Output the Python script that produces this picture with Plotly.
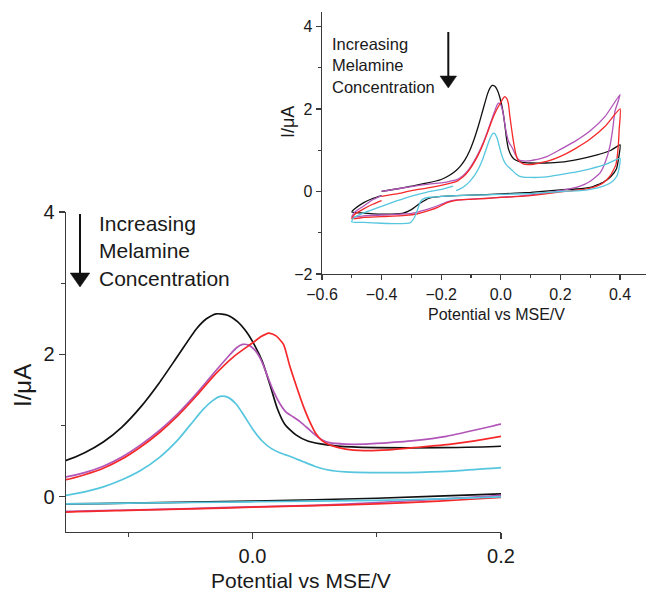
import plotly.graph_objects as go

W, H = 646, 591

# ---------------- data (potential in V vs MSE, current in uA) ----------------
black_x = [-0.40, -0.35, -0.30, -0.25, -0.20, -0.175, -0.15, -0.135, -0.12, -0.105, -0.09, -0.075,
           -0.06, -0.045, -0.037, -0.029, -0.020, -0.012, -0.005, 0.002, 0.008, 0.014, 0.020,
           0.026, 0.035, 0.045, 0.060, 0.080,
           0.100, 0.150, 0.200, 0.260, 0.320, 0.370, 0.400,
           0.396, 0.388, 0.370, 0.345, 0.300, 0.250, 0.200, 0.100, 0.000, -0.100, -0.150, -0.200,
           -0.240, -0.270, -0.300, -0.330, -0.400, -0.470, -0.500,
           -0.490, -0.460, -0.430, -0.400]
black_y = [0.00, 0.06, 0.13, 0.20, 0.29, 0.38, 0.51, 0.62, 0.77, 0.98, 1.26, 1.60,
           1.98, 2.36, 2.50, 2.57, 2.55, 2.46, 2.32, 2.12, 1.90, 1.58, 1.24,
           1.02, 0.87, 0.78, 0.73, 0.70,
           0.69, 0.69, 0.71, 0.78, 0.88, 1.00, 1.13,
           0.85, 0.55, 0.37, 0.23, 0.10, 0.06, 0.04, -0.02, -0.06, -0.09, -0.10, -0.12,
           -0.16, -0.28, -0.44, -0.53, -0.55, -0.52, -0.50,
           -0.42, -0.27, -0.17, -0.10]

red_x = [-0.40, -0.35, -0.30, -0.25, -0.20, -0.175, -0.15, -0.135, -0.12, -0.105, -0.09, -0.075,
         -0.06, -0.045, -0.03, -0.015, 0.000, 0.007, 0.013, 0.019, 0.025, 0.030, 0.036, 0.041,
         0.046, 0.051, 0.056, 0.062, 0.075, 0.090, 0.110, 0.130, 0.160, 0.200, 0.250, 0.300,
         0.350, 0.400,
         0.397, 0.394, 0.386, 0.366, 0.345, 0.322, 0.280, 0.200, 0.150, 0.100, 0.050, 0.000,
         -0.050, -0.100, -0.150, -0.180, -0.210, -0.240, -0.280, -0.320, -0.400, -0.460, -0.500,
         -0.490, -0.460, -0.430, -0.400]
red_y = [-0.12, -0.06, 0.02, 0.08, 0.15, 0.19, 0.24, 0.31, 0.40, 0.53, 0.70, 0.90,
         1.14, 1.42, 1.72, 1.97, 2.16, 2.25, 2.30, 2.26, 2.14, 1.84, 1.52, 1.27,
         1.06, 0.89, 0.79, 0.73, 0.67, 0.65, 0.66, 0.69, 0.74, 0.85, 1.04, 1.27,
         1.58, 2.00,
         1.50, 1.10, 0.65, 0.37, 0.22, 0.13, 0.05, -0.01, -0.06, -0.10, -0.125, -0.145,
         -0.17, -0.19, -0.215, -0.27, -0.38, -0.46, -0.54, -0.58, -0.61, -0.63, -0.66,
         -0.55, -0.42, -0.31, -0.22]

purple_x = [-0.40, -0.35, -0.30, -0.25, -0.20, -0.175, -0.15, -0.135, -0.12, -0.105, -0.09, -0.075,
            -0.06, -0.045, -0.03, -0.02, -0.013, -0.008, -0.003, 0.002, 0.007, 0.012, 0.017,
            0.022, 0.027, 0.033, 0.038, 0.044, 0.049, 0.055, 0.062, 0.075, 0.090, 0.100, 0.130,
            0.156, 0.200, 0.250, 0.300, 0.350, 0.400,
            0.392, 0.383, 0.375, 0.366, 0.350, 0.333, 0.300, 0.266, 0.200, 0.154, 0.100, 0.050,
            0.000, -0.050, -0.100, -0.150, -0.180, -0.210, -0.250, -0.300, -0.400, -0.460, -0.500,
            -0.490, -0.460, -0.430, -0.400]
purple_y = [0.00, 0.06, 0.12, 0.17, 0.21, 0.24, 0.28, 0.34, 0.43, 0.56, 0.73, 0.93,
            1.17, 1.45, 1.76, 1.96, 2.09, 2.14, 2.13, 2.06, 1.92, 1.70, 1.48,
            1.31, 1.19, 1.12, 1.06, 0.97, 0.89, 0.81, 0.76, 0.74, 0.74, 0.75, 0.79,
            0.85, 1.02, 1.22, 1.47, 1.82, 2.35,
            2.15, 1.95, 1.50, 1.10, 0.70, 0.45, 0.25, 0.13, 0.02, -0.03, -0.08, -0.12,
            -0.14, -0.165, -0.185, -0.205, -0.25, -0.34, -0.44, -0.53, -0.57, -0.59, -0.62,
            -0.50, -0.35, -0.20, -0.10]

cyan_x = [-0.15, -0.135, -0.12, -0.105, -0.09, -0.075, -0.06, -0.05, -0.04, -0.032, -0.026,
          -0.020, -0.013, -0.006, 0.001, 0.008, 0.015, 0.022, 0.030, 0.040, 0.050, 0.060, 0.075,
          0.100, 0.125, 0.160, 0.200, 0.250, 0.300, 0.350, 0.400,
          0.398, 0.389, 0.370, 0.344, 0.300, 0.266, 0.200, 0.150, 0.100, 0.000, -0.100, -0.150,
          -0.200, -0.240, -0.260, -0.270, -0.280, -0.290, -0.305, -0.350, -0.400, -0.460, -0.500,
          -0.495, -0.460, -0.400, -0.350, -0.300, -0.250, -0.200, -0.160]
cyan_y = [0.02, 0.07, 0.14, 0.24, 0.37, 0.55, 0.80, 1.01, 1.22, 1.35, 1.41,
          1.40, 1.30, 1.12, 0.93, 0.78, 0.68, 0.62, 0.57, 0.50, 0.43, 0.38, 0.35,
          0.34, 0.34, 0.36, 0.41, 0.47, 0.55, 0.65, 0.80,
          0.62, 0.37, 0.22, 0.13, 0.05, 0.02, 0.00, -0.03, -0.05, -0.07, -0.09, -0.10,
          -0.12, -0.14, -0.18, -0.25, -0.45, -0.63, -0.76, -0.78, -0.77, -0.75, -0.74,
          -0.64, -0.52, -0.36, -0.23, -0.11, -0.02, 0.05, 0.13]

series = [
    (black_x, black_y, "#111111"),
    (purple_x, purple_y, "#b155b8"),
    (red_x, red_y, "#f5282a"),
    (cyan_x, cyan_y, "#55c6de"),
]

main_xticks = [0.0, 0.2]
main_yticks = [0, 2, 4]
inset_xticks = [-0.6, -0.4, -0.2, 0.0, 0.2, 0.4]
inset_yticks = [-2, 0, 2, 4]

FONT = "Liberation Sans, Arial, sans-serif"
AX = "#3a3a3a"


def P(px, py):
    return px / W, 1 - py / H


fig = go.Figure()
for xs, ys, c in series:
    fig.add_trace(go.Scatter(x=xs, y=ys, mode="lines", xaxis="x", yaxis="y",
                             line=dict(color=c, width=1.7, shape="spline", smoothing=0.6),
                             showlegend=False, hoverinfo="skip"))
for xs, ys, c in series:
    fig.add_trace(go.Scatter(x=xs, y=ys, mode="lines", xaxis="x2", yaxis="y2",
                             line=dict(color=c, width=1.3, shape="spline", smoothing=0.5),
                             showlegend=False, hoverinfo="skip"))


def axis(domain, rng, tickvals, fmt, minor_dtick, fs, ticklen, minorlen, anchor):
    return dict(domain=domain, range=rng, tickmode="array", tickvals=tickvals, tickformat=fmt,
                ticks="outside", ticklen=ticklen, tickwidth=1.2, tickcolor=AX,
                showline=True, linecolor=AX, linewidth=1.3, showgrid=False, zeroline=False,
                tickfont=dict(family=FONT, size=fs, color="#1a1a1a"), anchor=anchor,
                automargin=False, fixedrange=True,
                minor=dict(dtick=minor_dtick, tick0=0, ticks="outside", ticklen=minorlen,
                           tickwidth=1.2, tickcolor=AX, showgrid=False))


fig.update_layout(
    width=W, height=H, autosize=False,
    margin=dict(l=0, r=0, t=0, b=0),
    paper_bgcolor="white", plot_bgcolor="rgba(0,0,0,0)",
    xaxis=axis([66 / W, 501 / W], [-0.15, 0.2], main_xticks, ".1f", 0.1, 20, 6, 4, "y"),
    yaxis=axis([1 - 531.7 / H, 1 - 212 / H], [-0.49, 4], main_yticks, "d", 1, 20, 6, 4, "x"),
    xaxis2=axis([322 / W, 1.0], [-0.6, 0.487], inset_xticks, ".1f", 0.1, 16, 5, 3, "y2"),
    yaxis2=axis([1 - 274 / H, 1 - 12 / H], [-2, 4.35], inset_yticks, "d", 1, 16, 5, 3, "x2"),
)

ann = []
def text(px, py, s, size, angle=0, xanchor="center", yanchor="middle", align="center"):
    x, y = P(px, py)
    ann.append(dict(x=x, y=y, xref="paper", yref="paper", text=s, showarrow=False,
                    textangle=angle, xanchor=xanchor, yanchor=yanchor, align=align,
                    font=dict(family=FONT, size=size, color="#1a1a1a")))

text(301, 580, "Potential vs MSE/V", 21)
text(22, 386, "I/μA", 24, angle=-90)
text(97, 251, "Increasing<br>Melamine<br>Concentration", 21, xanchor="left", align="left")
text(496, 314, "Potential vs MSE/V", 16)
text(288, 122, "I/μA", 18, angle=-90)
text(330, 65, "Increasing<br>Melamine<br>Concentration", 16.5, xanchor="left", align="left")
fig.update_layout(annotations=ann)

shapes = []
def arrow(px, top, head_top, tip, half):
    x0, y0 = P(px, top)
    x1, y1 = P(px, head_top + 1)
    shapes.append(dict(type="line", xref="paper", yref="paper", x0=x0, y0=y0, x1=x1, y1=y1,
                       line=dict(color="#111111", width=2)))
    a = P(px - half, head_top)
    b = P(px + half, head_top)
    c = P(px, tip)
    shapes.append(dict(type="path", xref="paper", yref="paper",
                       path=f"M {a[0]},{a[1]} L {b[0]},{b[1]} L {c[0]},{c[1]} Z",
                       fillcolor="#111111", line=dict(color="#111111", width=0.5)))

arrow(80, 214, 273, 287, 9.8)
arrow(448.3, 32, 76, 88, 8.3)
fig.update_layout(shapes=shapes)

fig.write_html("out.html", config={"displayModeBar": False, "staticPlot": True},
               post_script="document.body.style.margin='0';document.body.style.padding='0';"
                           "document.body.style.overflow='hidden';")
